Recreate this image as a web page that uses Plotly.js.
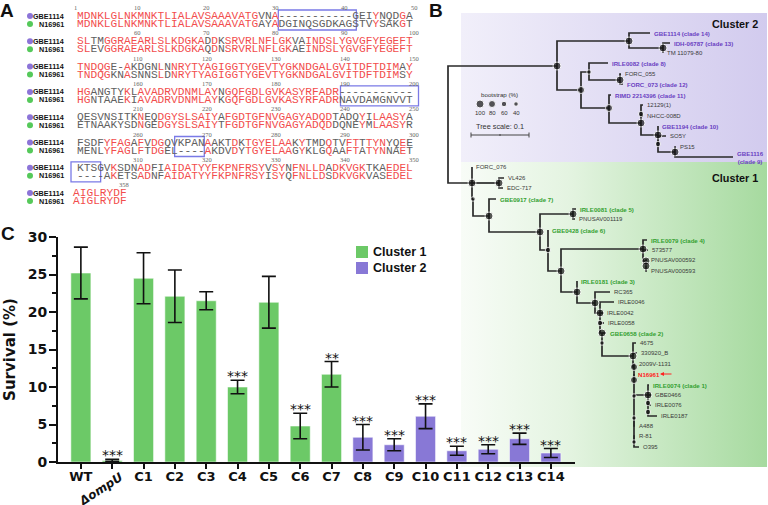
<!DOCTYPE html>
<html><head><meta charset="utf-8">
<script src="https://cdn.plot.ly/plotly-3.0.1.min.js"></script>
<style>html,body{margin:0;padding:0;background:#fff}#chart{width:768px;height:505px}</style>
</head><body><div id="chart"></div>
<script>
// ===================== Panel C data =====================
const categories = ['WT','ΔompU','C1','C2','C3','C4','C5','C6','C7','C8','C9','C10','C11','C12','C13','C14'];
const survival    = [25.2,0.2,24.5,22.1,21.5,10.0,21.3,4.8,11.7,3.3,2.3,6.1,1.5,1.7,3.1,1.2];
const survivalErr = [3.45,0.15,3.4,3.5,1.2,0.9,3.45,1.7,1.7,1.7,0.8,1.65,0.6,0.6,0.75,0.6];
const significance = ['','***','','','','***','','***','**','***','***','***','***','***','***','***'];
const clusterOf   = [1,1,1,1,1,1,1,1,1,2,2,2,2,2,2,2];
const clusterNames = ['Cluster 1','Cluster 2'];
const yTicks = [0,5,10,15,20,25,30];

// ===================== Panel A data =====================
const alignStart = [1,51,101,151,201,251,301,351];
const seqGBE1114 = [
 'MDNKLGLNKMNKTLIALAVSAAAVATGVNA-----------GEIYNQDGA',
 'SLTMGGRAEARLSLKDGKADDKSRVRLNFLGKVAINDSLYGVGFYEGEFT',
 'TNDQGE-AKDGNLNNRYTYAGIGGTYGEVTYGKNDGALGVITDFTDIMAY',
 'HGANGTYKLAVADRVDNMLAYNGQFGDLGVKASYRFADR-----------',
 'QESVNSITKNEQDGYSLSAIYAFGDTGFNVGAGYADQDTADQYILAASYA',
 'FSDFYFAGAFVDGQVKPANAAKTDKTGYELAAKYTMDQTVFTTTYNYQEE',
 'KTSGVKSDNADFIAIDATYYFKPNFRSYVSYNFNLLDADKVGKTKAEDEL',
 'AIGLRYDF'];
const seqN16961 = [
 'MDNKLGLNKMNKTLIALAVSAAAVATGAYADGINQSGDKAGSTVYSAKGT',
 'SLEVGGRAEARLSLKDGKAQDNSRVRLNFLGKAEINDSLYGVGFYEGEFT',
 'TNDQGKNASNNSLDNRYTYAGIGGTYGEVTYGKNDGALGVITDFTDIMSY',
 'HGNTAAEKIAVADRVDNMLAYKGQFGDLGVKASYRFADRNAVDAMGNVVT',
 'ETNAAKYSDNGEDGYSLSAIYTFGDTGFNVGAGYADQDDQNEYMLAASYR',
 'MENLYFAGLFTDGEL----AKDVDYTGYELAAGYKLGQAAFTATYNNAET',
 '----AKETSADNFAIDATYYFKPNFRSYISYQFNLLDSDKVGKVASEDEL',
 'AIGLRYDF'];
const seqNames = ['GBE1114','N16961'];
const seqNameColors = ['#8c74d8','#55c95a'];

// ===================== Panel B data (tree) =====================
const nodeId     = ['root','c2','b','d','c','e','g','f','h','h1','j','j2','k',
                    'c1','vl','y1','z','w','v5','u','t','s','s2','s3','r','q','p','o','m','l','n','n2','n3','n4','i','i2','i3','n5','n6'];
const nodeParent = [null,'root','c2','b','c2','c','e','c','f','h','h','j','j2',
                    'root','c1','c1','y1','z','w','w','u','t','s','s2','t','r','q','p','o','m','l','n','n2','n3','n4','i','i2','n4','n5'];
const nodeDepth  = [448,557,629,663,581,589,620,609,641,641,658,658,675,
                    472,499,473,489,540,573,548,561,643,646,646,577,595,600,600,602,602,633,634,634,634,648,648,648,634,634];
const nodeRow    = [125,66,41,48,90,72,80,108,123,114,135,144,152,
                    183,183,199,216,232,214,250,271,249,261,266,292,303,313,323,333,343,356,367,380,396,395,403,412,418,442];
const nodeBoot   = [0,100,100,100,80,40,100,80,100,60,100,60,100,
                    100,100,40,100,100,100,60,100,100,100,100,100,100,100,60,100,40,100,80,80,40,100,60,60,40,40];

const leafName = ['GBE1114 (clade 14)','IDH-06787 (clade 13)','TM 11079-80','IRLE0082 (clade 8)','FORC_055','FORC_073 (clade 12)',
  'RIMD 2214396 (clade 11)','12129(1)','NHCC-008D','GBE1194 (clade 10)','SO5Y','PS15','GBE1116 (clade 9)',
  'FORC_076','VL426','EDC-717','GBE0917 (clade 7)','IRLE0081 (clade 5)','PNUSAV001119','GBE0428 (clade 6)','IRLE0079 (clade 4)',
  '573577','PNUSAV000592','PNUSAV000593','IRLE0181 (clade 3)','RC365','IRLE0046','IRLE0042','IRLE0058','GBE0658 (clade 2)',
  '4675','330920_B','2009V-1131','N16961','IRLE0074 (clade 1)','GBE0466','IRLE0076','IRLE0187','A488','R-81','O395'];
const leafParent = ['b','d','d','e','g','g','f','h1','h1','j','j2','k','k',
  'c1','vl','vl','z','v5','v5','u','s','s','s2','s3','r','q','p','p','o','m','n','n','n2','n3','i','i','i2','i3','n5','n6','n6'];
const leafDepth  = [650,670,663,608,621,623,611,643,643,658,666,676,733,
  472,504,503,496,576,575,548,647,648,647,647,577,610,614,603,604,606,636,637,635,634,649,651,651,657,635,635,639];
const leafRow    = [33,43,53,63,74,84,95,105,116,126,136,147,157,
  167,178,188,199,209,219,230,240,250,260,271,281,292,302,313,323,333,343,353,364,374,385,395,405,416,426,436,447];
const leafCluster = [2,2,2,2,2,2,2,2,2,2,2,2,2, 1,1,1,1,1,1,1,1,1,1,1,1,1,1,1,1,1,1,1,1,1,1,1,1,1,1,1,1];
const referenceStrain = 'N16961';
const bootLegend = [100,80,60,40];

// ===================== styling =====================
const W = 768, H = 505;
const GREEN = '#6cc967', PURPLE = '#8878d6';
const clusterColors = [GREEN, PURPLE];
const RED = '#f24d4d', GRAY = '#606060';
const SANS = 'Liberation Sans, Arial';
const BOLDSANS = 'DejaVu Sans';
const colW = 6.91, seqX0 = 72;
const blockY = b => 16 + 25.3 * b;
const bootSize = v => v >= 100 ? 8 : v >= 80 ? 7 : v >= 60 ? 5.5 : 4.5;

const annotations = [], shapes = [], traces = [];

// ---------- Panel C ----------
traces.push({
  type:'bar', x: categories, y: survival, xaxis:'x', yaxis:'y', width:0.64,
  marker:{color: clusterOf.map(c => clusterColors[c-1]), line:{color:'rgba(255,255,255,0.55)', width:1}},
  error_y:{type:'data', array: survivalErr, visible:true, color:'#111', thickness:1.6, width:7},
  hoverinfo:'skip', showlegend:false
});
categories.forEach((c,i) => {
  if (significance[i]) annotations.push({
    xref:'x', yref:'y', x:c, y: survival[i] + survivalErr[i], yanchor:'bottom', yshift:-6,
    text: significance[i], showarrow:false, font:{family:BOLDSANS, size:14, color:'#111'}
  });
});
annotations.push({xref:'x', yref:'paper', x:categories[1], y:(H-489)/H, xanchor:'center', yanchor:'middle', xshift:-11,
  text:'<b><i>'+categories[1]+'</i></b>', textangle:-33, showarrow:false, font:{family:BOLDSANS, size:12, color:'#111'}});
// legend (manual)
clusterNames.forEach((n,i) => {
  const yc = 252 + i*16;
  shapes.push({type:'rect', xref:'paper', yref:'paper', x0:356/W, x1:368/W, y0:(H-yc+6)/H, y1:(H-yc-6)/H,
    fillcolor: clusterColors[i], line:{width:0}});
  annotations.push({xref:'paper', yref:'paper', x:371/W, y:(H-yc)/H, xanchor:'left', yanchor:'middle', text:'<b>'+n+'</b>',
    showarrow:false, font:{family:SANS, size:12.5, color:'#111'}});
});

// ---------- Panel A ----------
function seqHtml(s, other){
  let out='', cur=null, buf='';
  for (let i=0;i<s.length;i++){
    const ch = s[i];
    const col = (ch === other[i] && ch !== '-') ? RED : GRAY;
    if (col !== cur){ if (buf) out += '<span style="color:'+cur+'">'+buf+'</span>'; buf=''; cur=col; }
    buf += ch;
  }
  if (buf) out += '<span style="color:'+cur+'">'+buf+'</span>';
  return out;
}
const nameDotX = [], nameDotY = [], nameDotC = [];
seqGBE1114.forEach((s1, b) => {
  const s2 = seqN16961[b];
  const y1 = blockY(b), y2 = y1 + 8;
  [[s1,s2,y1],[s2,s1,y2]].forEach(([a,o,y], k) => {
    annotations.push({xref:'x2', yref:'y2', x:seqX0 + a.length*colW/2, y:y, xanchor:'center', yanchor:'middle', showarrow:false,
      text: seqHtml(a,o), font:{family:'Liberation Mono', size:11.2, color:GRAY}});
    annotations.push({xref:'x2', yref:'y2', x:66, y:y, xanchor:'right', yanchor:'middle', showarrow:false,
      text:'<b>'+seqNames[k]+'</b>', font:{family:SANS, size:7.2, color:'#111'}});
    nameDotX.push(30); nameDotY.push(y); nameDotC.push(seqNameColors[k]);
  });
  // ruler
  for (let c=1;c<=s1.length;c++){
    const pos = alignStart[b] + c - 1;
    if (pos === 1 || pos % 10 === 0 || (b === seqGBE1114.length-1 && c === s1.length)) {
      annotations.push({xref:'x2', yref:'y2', x: seqX0 + (c-0.5)*colW, y: y1-8.5, xanchor:'center', yanchor:'middle',
        showarrow:false, text:String(pos), font:{family:'Liberation Serif', size:6.5, color:'#666'}});
    }
  }
  // gap boxes
  [s1,s2].forEach(s => {
    const re = /-{3,}/g; let m;
    while ((m = re.exec(s)) !== null){
      shapes.push({type:'rect', xref:'x2', yref:'y2', x0: seqX0 + m.index*colW - 1, x1: seqX0 + (m.index+m[0].length)*colW + 1,
        y0: y1-6, y1: y2+6, line:{color:'#7a7ae6', width:1.3}, fillcolor:'rgba(0,0,0,0)'});
    }
  });
});
traces.push({type:'scatter', mode:'markers', x:nameDotX, y:nameDotY, xaxis:'x2', yaxis:'y2',
  marker:{size:6, color:nameDotC}, hoverinfo:'skip', showlegend:false});

// ---------- Panel B ----------
const idx = {}; nodeId.forEach((id,i) => idx[id] = i);
const lx = [], ly = [];
function link(p, x, y){
  const px = nodeDepth[idx[p]], py = nodeRow[idx[p]];
  lx.push(px, px, x, null); ly.push(py, y, y, null);
}
nodeId.forEach((id,i) => { if (nodeParent[i]) link(nodeParent[i], nodeDepth[i], nodeRow[i]); });
leafName.forEach((n,i) => link(leafParent[i], leafDepth[i], leafRow[i]));
traces.push({type:'scatter', mode:'lines', x:lx, y:ly, xaxis:'x2', yaxis:'y2',
  line:{color:'#2a2a2a', width:1.7}, hoverinfo:'skip', showlegend:false});
const bx=[], by=[], bs=[];
nodeId.forEach((id,i) => { if (nodeBoot[i] > 0){ bx.push(nodeDepth[i]); by.push(nodeRow[i]); bs.push(bootSize(nodeBoot[i])); }});
traces.push({type:'scatter', mode:'markers', x:bx, y:by, xaxis:'x2', yaxis:'y2',
  marker:{size:bs, color:'#111'}, hoverinfo:'skip', showlegend:false});

leafName.forEach((n,i) => {
  const isClade = n.indexOf('(clade') >= 0, isRef = n === referenceStrain;
  let color = '#3a3a3a', txt = n;
  if (isClade) { color = leafCluster[i] === 2 ? '#6a3fc2' : '#33a030'; }
  if (isRef) color = '#ff2222';
  if (isClade && leafDepth[i] > 700) txt = n.replace(' (', '<br>(');
  if (isClade || isRef) txt = '<b>'+txt+'</b>';
  annotations.push({xref:'x2', yref:'y2', x:leafDepth[i]+1.5, y:leafRow[i], xanchor:'left', yanchor:'middle', showarrow:false,
    text:txt, font:{family:SANS, size:(isClade||isRef)?6.1:6.0, color:color}});
  if (isRef) annotations.push({xref:'x2', yref:'y2', axref:'x2', ayref:'y2', x:leafDepth[i]+26, y:leafRow[i],
    ax:leafDepth[i]+39, ay:leafRow[i], text:'', showarrow:true, arrowhead:2, arrowsize:0.8, arrowwidth:1, arrowcolor:'#ff2222', standoff:0});
});
// bootstrap legend
annotations.push({xref:'x2', yref:'y2', x:499, y:94, text:'bootstrap (%)', showarrow:false, font:{family:SANS, size:6.2, color:'#333'}});
const blx = bootLegend.map((v,i) => 480 + i*12);
traces.push({type:'scatter', mode:'markers', x:blx, y:bootLegend.map(()=>104), xaxis:'x2', yaxis:'y2',
  marker:{size:bootLegend.map(bootSize), color:'#111'}, hoverinfo:'skip', showlegend:false});
bootLegend.forEach((v,i) => annotations.push({xref:'x2', yref:'y2', x:blx[i], y:113, text:String(v), showarrow:false,
  font:{family:SANS, size:6, color:'#333'}}));
annotations.push({xref:'x2', yref:'y2', x:500, y:126, text:'Tree scale: 0.1', showarrow:false, font:{family:SANS, size:7.3, color:'#333'}});
shapes.push({type:'line', xref:'x2', yref:'y2', x0:471, x1:529, y0:135, y1:135, line:{color:'#444', width:1}});
[471,500,529].forEach((x,k) => shapes.push({type:'line', xref:'x2', yref:'y2', x0:x, x1:x, y0:k===1?134:132.5, y1:k===1?136:137.5, line:{color:'#444', width:1}}));
annotations.push({xref:'x2', yref:'y2', x:760, y:24, xanchor:'right', text:'<b>Cluster 2</b>', showarrow:false, font:{family:SANS, size:10.8, color:'#111'}});
annotations.push({xref:'x2', yref:'y2', x:760, y:178, xanchor:'right', text:'<b>Cluster 1</b>', showarrow:false, font:{family:SANS, size:10.8, color:'#111'}});

// panel letters
[['A',7,10],['B',436,10],['C',8,233]].forEach(([t,x,y]) => annotations.push({xref:'x2', yref:'y2', x:x, y:y, text:'<b>'+t+'</b>',
  showarrow:false, font:{family:'Liberation Sans', size:19, color:'#111'}}));

// gradient backgrounds of the tree panel
function grad(w,h,stops){
  const st = stops.map(([o,c]) => "<stop offset='"+o+"' stop-color='"+c+"'/>").join('');
  const svg = "<svg xmlns='http://www.w3.org/2000/svg' width='"+w+"' height='"+h+"' viewBox='0 0 "+w+" "+h+"' preserveAspectRatio='none'>"+
    "<defs><linearGradient id='g' x1='0' y1='0' x2='1' y2='0'>"+st+"</linearGradient></defs><rect width='"+w+"' height='"+h+"' fill='url(#g)'/></svg>";
  return 'data:image/svg+xml;charset=utf-8,' + encodeURIComponent(svg);
}
const images = [
  {source: grad(306,149,[[0,'#f1effa'],[1,'#d2cbee']]), xref:'paper', yref:'paper', x:461/W, y:1-13/H, sizex:306/W, sizey:149/H,
   xanchor:'left', yanchor:'top', sizing:'stretch', layer:'below'},
  {source: grad(306,305,[[0,'#f8fcf7'],[0.35,'#e4f4e1'],[1,'#a6da9f']]), xref:'paper', yref:'paper', x:461/W, y:1-162/H, sizex:306/W, sizey:305/H,
   xanchor:'left', yanchor:'top', sizing:'stretch', layer:'below'}
];

const layout = {
  width:W, height:H, margin:{l:0,r:0,t:0,b:0}, paper_bgcolor:'#ffffff', plot_bgcolor:'rgba(0,0,0,0)', showlegend:false,
  xaxis:{domain:[58/W,575/W], range:[-0.73,15.77], type:'category', tickmode:'array', tickvals:categories,
    ticktext: categories.map((c,i) => i===1 ? '' : c), ticks:'outside', ticklen:5, tickwidth:2, tickcolor:'#111', ticklabelstandoff:-4,
    showline:true, linewidth:2.2, linecolor:'#111', showgrid:false, zeroline:false, anchor:'y', fixedrange:true,
    tickfont:{family:BOLDSANS, size:13, weight:'bold', color:'#111'}},
  yaxis:{domain:[(H-462)/H,(H-237)/H], range:[0,30], tickmode:'array', tickvals:yTicks, ticks:'outside', ticklen:7, tickwidth:2,
    tickcolor:'#111', showline:true, linewidth:2, linecolor:'#111', showgrid:false, zeroline:false, anchor:'x', fixedrange:true,
    ticklabelstandoff:-1,
    tickfont:{family:BOLDSANS, size:14, weight:'bold', color:'#111'},
    minor:{dtick:2.5, tick0:0, ticks:'outside', ticklen:4, tickwidth:2, tickcolor:'#111', showgrid:false},
    title:{text:'Survival (%)', standoff:8, font:{family:BOLDSANS, size:15, weight:'bold', color:'#111'}}},
  xaxis2:{domain:[0,1], range:[0,W], visible:false, anchor:'y2', fixedrange:true},
  yaxis2:{domain:[0,1], range:[H,0], visible:false, anchor:'x2', fixedrange:true},
  shapes: shapes, annotations: annotations, images: images
};
Plotly.newPlot('chart', traces, layout, {staticPlot:true, displayModeBar:false});
</script></body></html>
